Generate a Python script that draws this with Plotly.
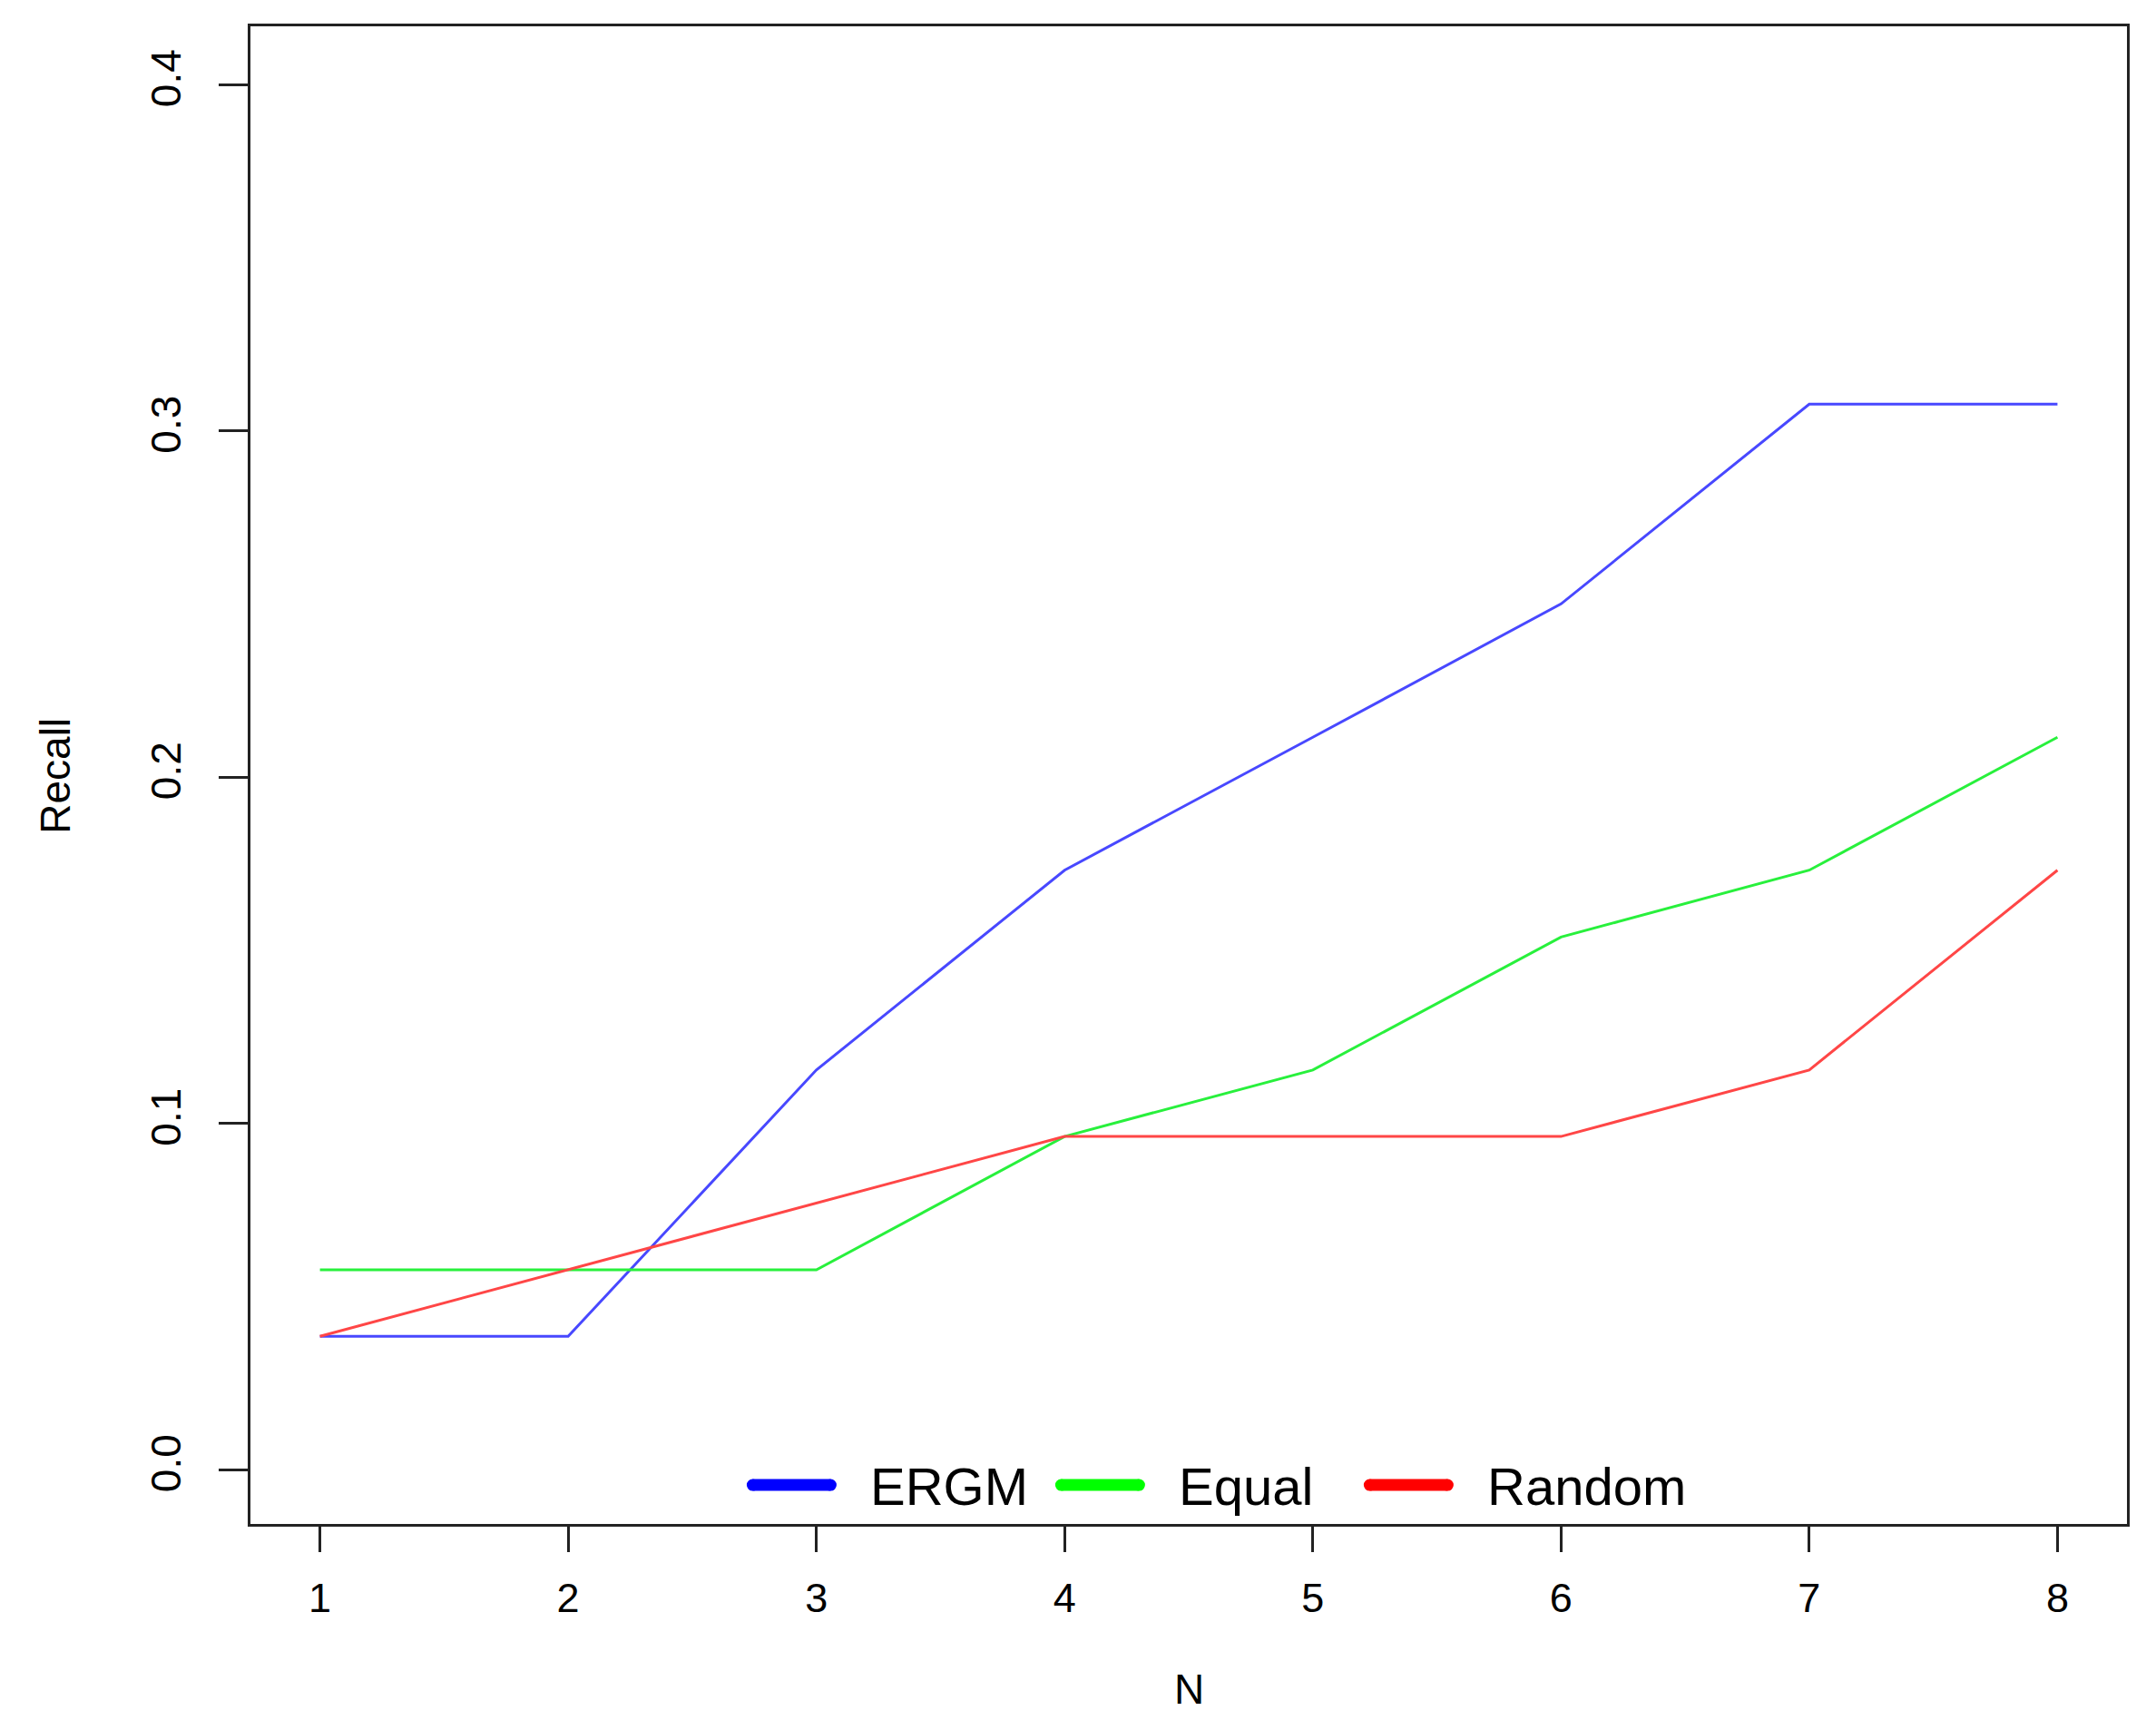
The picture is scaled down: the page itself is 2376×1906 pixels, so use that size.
import plotly.graph_objects as go

# recall values for each N
n_values = [1, 2, 3, 4, 5, 6, 7, 8]
ergm = [0.0385, 0.0385, 0.1154, 0.1731, 0.2115, 0.2500, 0.3077, 0.3077]
equal = [0.0577, 0.0577, 0.0577, 0.0962, 0.1154, 0.1538, 0.1731, 0.2115]
random_pick = [0.0385, 0.0577, 0.0769, 0.0962, 0.0962, 0.0962, 0.1154, 0.1731]

series_names = ["ERGM", "Equal", "Random"]
y_ticks = [0.0, 0.1, 0.2, 0.3, 0.4]

line_colors = ["rgb(72,72,255)", "rgb(40,240,60)", "rgb(255,70,70)"]
key_colors = ["#0000ff", "#00ff00", "#ff0000"]
ink = "#222222"
font = "Liberation Sans, Arial, sans-serif"

fig = go.Figure()
for name, vals, col in zip(series_names, [ergm, equal, random_pick], line_colors):
    fig.add_trace(go.Scatter(x = n_values,
                             y = vals,
                             mode = "lines",
                             name = name,
                             showlegend = False,
                             line = dict(color = col, width = 3)))

# R style legend (no box) drawn as thick strokes + labels, bottom of the plot
key_x = [0.2676, 0.4320, 0.5964]   # centre of left cap
key_len = 0.0416
key_y = 0.026
cap = 6.5  # px radius of the round caps
shapes = []
annotations = []
for name, col, x0 in zip(series_names, key_colors, key_x):
    shapes.append(dict(type = "line", xref = "paper", yref = "paper",
                       x0 = x0, x1 = x0 + key_len, y0 = key_y, y1 = key_y,
                       line = dict(color = col, width = 13)))
    for xa in [x0, x0 + key_len]:
        shapes.append(dict(type = "circle", xref = "paper", yref = "paper",
                           xsizemode = "pixel", ysizemode = "pixel",
                           xanchor = xa, yanchor = key_y,
                           x0 = -cap, x1 = cap, y0 = -cap, y1 = cap,
                           fillcolor = col, line = dict(width = 0)))
    annotations.append(dict(text = name, xref = "paper", yref = "paper",
                            x = x0 + 0.0617, y = 0.025,
                            xanchor = "left", yanchor = "middle",
                            showarrow = False,
                            font = dict(size = 58, color = "black", family = font)))

# axis titles
annotations.append(dict(text = "N", xref = "paper", yref = "paper",
                        x = 0.5, y = -0.1106, xanchor = "center", yanchor = "middle",
                        showarrow = False, font = dict(size = 46, color = "black", family = font)))
annotations.append(dict(text = "Recall", xref = "paper", yref = "paper",
                        x = -0.104, y = 0.4995, xanchor = "center", yanchor = "middle",
                        textangle = -90, showarrow = False,
                        font = dict(size = 46, color = "black", family = font)))

# page body adds an 8px offset, margins take that into account
fig.update_layout(width = 2376,
                  height = 1906,
                  margin = dict(l = 268, r = 40, t = 21, b = 235),
                  plot_bgcolor = "white",
                  paper_bgcolor = "white",
                  showlegend = False,
                  shapes = shapes,
                  annotations = annotations,
                  font = dict(family = font, color = "black"))

fig.update_xaxes(range = [0.72, 8.28],
                 tickvals = n_values,
                 ticks = "outside",
                 ticklen = 28,
                 tickwidth = 3,
                 tickcolor = ink,
                 ticklabelstandoff = 12,
                 tickfont = dict(size = 45, color = "black"),
                 showline = True,
                 linecolor = ink,
                 linewidth = 3,
                 mirror = True,
                 showgrid = False,
                 zeroline = False)

fig.update_yaxes(range = [-0.0157, 0.4168],
                 tickvals = y_ticks,
                 tickformat = ".1f",
                 tickangle = -90,
                 ticks = "outside",
                 ticklen = 32,
                 tickwidth = 3,
                 tickcolor = ink,
                 ticklabelstandoff = 24,
                 tickfont = dict(size = 46, color = "black"),
                 showline = True,
                 linecolor = ink,
                 linewidth = 3,
                 mirror = True,
                 showgrid = False,
                 zeroline = False)

fig.write_html("out.html")
